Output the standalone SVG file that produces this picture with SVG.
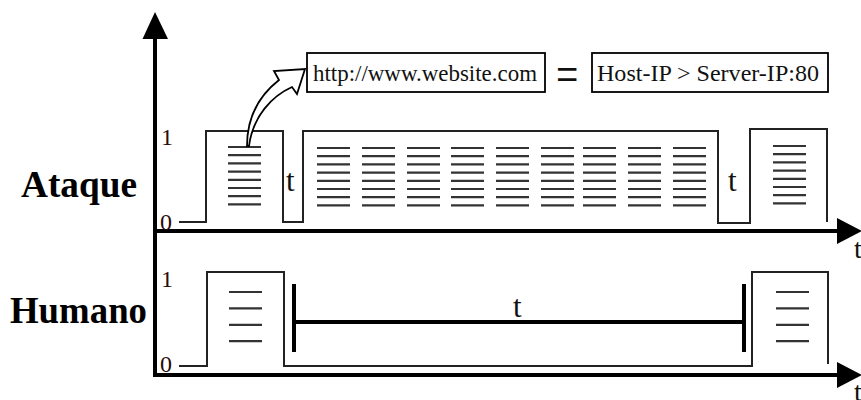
<svg xmlns="http://www.w3.org/2000/svg" width="861" height="400" viewBox="0 0 861 400">
<style>
.ax{stroke:#000;stroke-width:4;fill:none}
.sig{stroke:#222;stroke-width:2;fill:none}
.ln{stroke:#333;stroke-width:2.2}
.tb{stroke:#000;stroke-width:4;fill:none}
.box{fill:#fff;stroke:#000;stroke-width:1.8}
.ser{font-family:"Liberation Serif","Times New Roman",serif;fill:#111}
.big{font-family:"Liberation Serif","Times New Roman",serif;font-weight:bold;font-size:37px;fill:#000}
.lvl{font-family:"Liberation Serif","Times New Roman",serif;font-size:24px;fill:#2a0a0a}
</style>
<defs>
<path id="blk8" class="ln" d="M0 0h33M0 8.2h33M0 16.4h33M0 24.6h33M0 32.8h33M0 41h33M0 49.2h33M0 57.4h33"/>
<path id="blk4" class="ln" d="M0 0h33M0 16.4h33M0 32.8h33M0 49.2h33"/>
</defs>
<rect width="861" height="400" fill="#fff"/>

<g id="axes">
<path class="ax" d="M155,36 V377 M155,231 H840 M155,375 H840"/>
<polygon points="155,12 142.5,39 168,39" fill="#000"/>
<polygon points="837,218 862,231 837,244" fill="#000"/>
<polygon points="837,362 862,375 837,388" fill="#000"/>
<text class="ser" x="854" y="258" font-size="28">t</text>
<text class="ser" x="854" y="401" font-size="28">t</text>
</g>

<g id="row-labels">
<text class="big" x="21" y="197" textLength="116" lengthAdjust="spacingAndGlyphs">Ataque</text>
<text class="big" x="10" y="323" textLength="137" lengthAdjust="spacingAndGlyphs">Humano</text>
</g>

<g id="level-labels">
<text class="lvl" x="161" y="145">1</text>
<text class="lvl" x="160" y="230">0</text>
<text class="lvl" x="161" y="287">1</text>
<text class="lvl" x="160" y="372">0</text>
</g>

<g id="ataque-signal">
<path class="sig" d="M179,222 H206 V131 H283 V222 H303 V131 H718 V223 H750 V129 H827 V222"/>
<use href="#blk8" x="228" y="147"/>
<use href="#blk8" x="317" y="148"/>
<use href="#blk8" x="362" y="148"/>
<use href="#blk8" x="407" y="148"/>
<use href="#blk8" x="451" y="148"/>
<use href="#blk8" x="496" y="148"/>
<use href="#blk8" x="541" y="148"/>
<use href="#blk8" x="583" y="148"/>
<use href="#blk8" x="628" y="148"/>
<use href="#blk8" x="673" y="148"/>
<use href="#blk8" x="773" y="146"/>
<text class="ser" x="286" y="191" font-size="31">t</text>
<text class="ser" x="728" y="191" font-size="31">t</text>
</g>

<g id="humano-signal">
<path class="sig" d="M179,366 H207 V272 H284 V366 H752 V272 H828 V364"/>
<use href="#blk4" x="229" y="292"/>
<use href="#blk4" x="776" y="292"/>
<path class="tb" d="M294,284 V352 M294,322 H744 M744,284 V352"/>
<text class="ser" x="513" y="317" font-size="31">t</text>
</g>

<g id="url-box">
<rect class="box" x="307" y="53" width="238" height="39"/>
<text class="ser" x="313" y="81" font-size="23" textLength="224" lengthAdjust="spacingAndGlyphs">http://www.website.com</text>
</g>

<g id="equals">
<text class="ser" transform="translate(556,92) scale(1.1,1.45)" font-size="36">=</text>
</g>

<g id="ip-box">
<rect class="box" x="592" y="53" width="236" height="39"/>
<text class="ser" x="597" y="81" font-size="23" textLength="222" lengthAdjust="spacingAndGlyphs">Host-IP &gt; Server-IP:80</text>
</g>

<g id="connectors">
<path d="M247,146 C247,122 256,98 279,80 L274,71 L305,69 L297,94 L292,87 C272,96 253,116 249,146 Z" fill="#fff" stroke="#000" stroke-width="1.8" stroke-linejoin="miter"/>
</g>
</svg>
